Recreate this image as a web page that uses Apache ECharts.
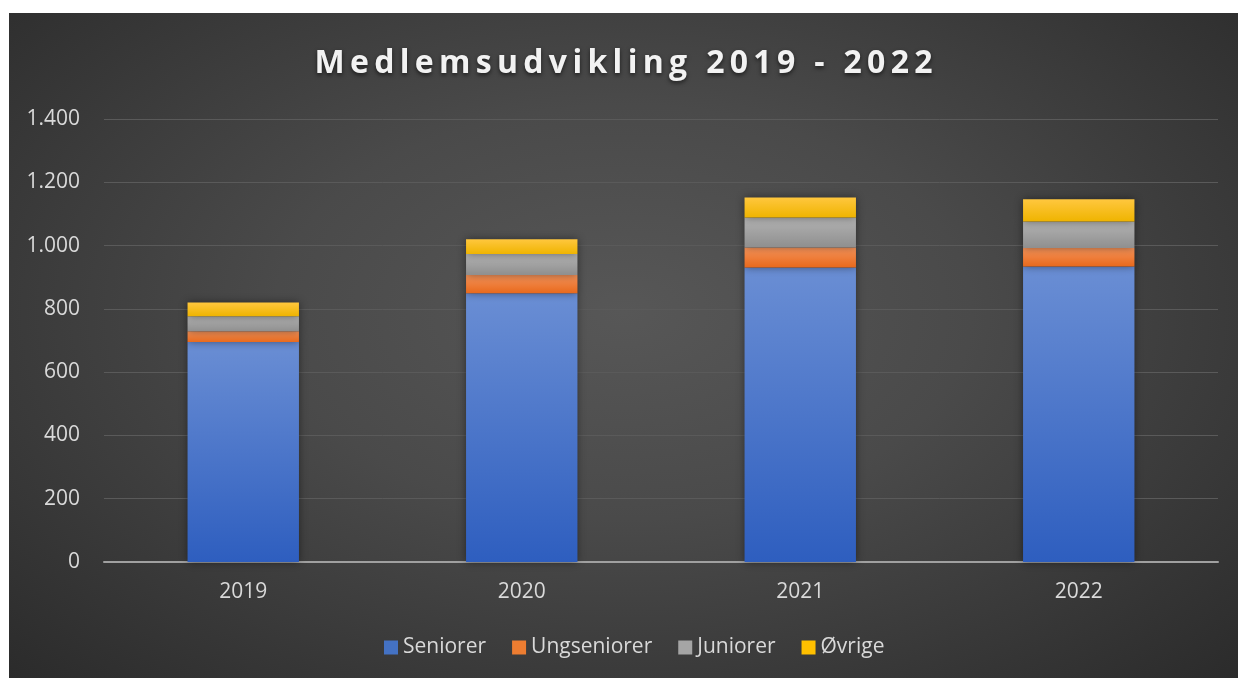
<!DOCTYPE html>
<html>
<head>
<meta charset="utf-8">
<script src="https://cdn.jsdelivr.net/npm/echarts@6/dist/echarts.min.js"></script>
<style>
  html, body { margin: 0; padding: 0; background: #fff; }
  #main {
    position: absolute; left: 9px; top: 13px; width: 1229px; height: 665px;
    background: radial-gradient(ellipse at 50% 45%, #575757 0%, #4a4a4a 40%, #2b2b2b 100%);
  }
</style>
</head>
<body>
<div id="main"></div>
<script>
const years = ["2019", "2020", "2021", "2022"];
const seniorer = [695, 849, 931, 934];
const ungseniorer = [34, 58, 63, 58];
const juniorer = [48, 66, 95, 84];
const ovrige = [43, 47, 63, 70];

const titleText = "Medlemsudvikling 2019 - 2022";

// farve top -> bund
function grad(top, bottom) {
  return new echarts.graphic.LinearGradient(0, 0, 0, 1, [
    { offset: 0, color: top },
    { offset: 1, color: bottom }
  ]);
}

function mkSeries(name, data, top, bottom) {
  return {
    name: name,
    type: "bar",
    stack: "total",
    barWidth: "40%",
    data: data,
    itemStyle: {
      color: grad(top, bottom),
      shadowColor: "rgba(0,0,0,0.45)",
      shadowBlur: 8
    }
  };
}

const fmt = v => String(v).replace(/\B(?=(\d{3})+(?!\d))/g, ".");

const chart = echarts.init(document.getElementById("main"));
chart.setOption({
  animation: false,
  title: {
    // tyndt mellemrum mellem bogstaverne for at give spatiering
    text: titleText.split("").join("\u2009"),
    left: "center",
    top: 30,
    textStyle: {
      color: "#f2f2f2",
      fontFamily: "Open Sans",
      fontWeight: "bold",
      fontSize: 32,
      textShadowColor: "rgba(0,0,0,0.6)",
      textShadowBlur: 4,
      textShadowOffsetY: 2
    }
  },
  legend: {
    bottom: 15,
    left: 370,
    itemWidth: 14,
    itemHeight: 14,
    itemGap: 26,
    icon: "rect",
    textStyle: { color: "#d9d9d9", fontSize: 21, fontFamily: "Open Sans" },
    data: [
      { name: "Seniorer", itemStyle: { color: "#4472c4" } },
      { name: "Ungseniorer", itemStyle: { color: "#ed7d31" } },
      { name: "Juniorer", itemStyle: { color: "#a5a5a5" } },
      { name: "Øvrige", itemStyle: { color: "#ffc000" } }
    ]
  },
  grid: { left: 95, right: 20, top: 106, bottom: 116 },
  xAxis: {
    type: "category",
    data: years,
    axisLine: { lineStyle: { color: "#a0a0a0", width: 2 } },
    axisTick: { show: false },
    axisLabel: { color: "#d9d9d9", fontSize: 21, fontFamily: "Open Sans", margin: 20 }
  },
  yAxis: {
    type: "value",
    min: 0,
    max: 1400,
    interval: 200,
    axisLine: { show: false },
    axisTick: { show: false },
    splitLine: { lineStyle: { color: "#5a5a5a", width: 1 } },
    axisLabel: { color: "#d9d9d9", fontSize: 21, fontFamily: "Open Sans", margin: 24, formatter: fmt }
  },
  series: [
    mkSeries("Seniorer", seniorer, "#6a8ed4", "#2e5ebf"),
    mkSeries("Ungseniorer", ungseniorer, "#f5935a", "#e8691c"),
    mkSeries("Juniorer", juniorer, "#b3b3b3", "#8f8f8f"),
    mkSeries("Øvrige", ovrige, "#ffc73e", "#efb400")
  ]
});
</script>
</body>
</html>
